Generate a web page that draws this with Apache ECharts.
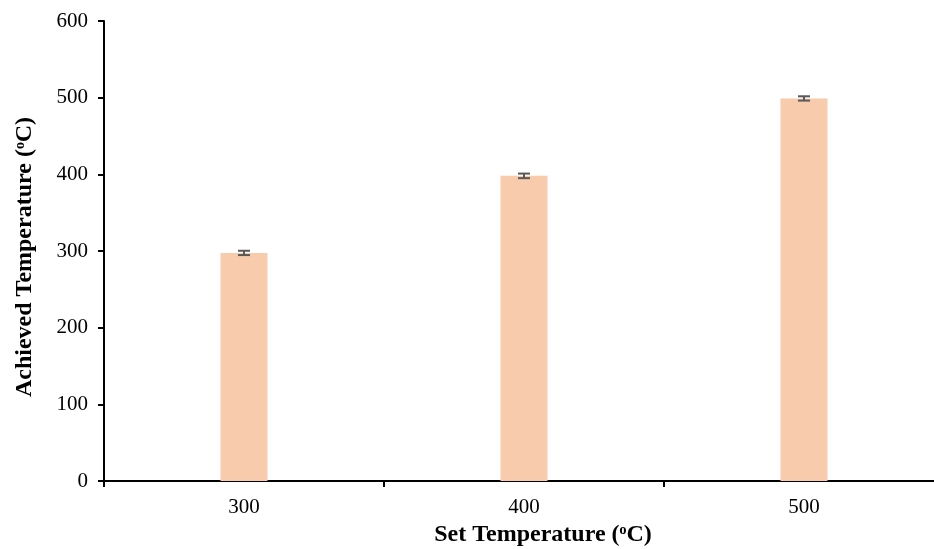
<!DOCTYPE html>
<html><head><meta charset="utf-8">
<script src="https://cdn.jsdelivr.net/npm/echarts@6/dist/echarts.min.js"></script>
<style>html,body{margin:0;padding:0;background:#fff}#c{width:934px;height:549px}</style>
</head><body><div id="c"></div>
<script>
const categories = ['300', '400', '500'];
const values = [297.5, 398, 499];
const errors = [2.8, 3, 2.8];
const yTicks = [0, 100, 200, 300, 400, 500, 600];

const chart = echarts.init(document.getElementById('c'));
const font = '"Liberation Serif","Times New Roman",serif';
chart.setOption({
  animation: false,
  grid: {left: 104, right: -10, top: 21, bottom: 68, containLabel: false, outerBoundsMode: 'none'},
  xAxis: {
    type: 'category', data: categories,
    name: 'Set Temperature (\u1d52C)', nameLocation: 'middle', nameGap: 41,
    nameTextStyle: {fontFamily: font, fontSize: 24, fontWeight: 'bold', color: '#000', padding: [0, 0, 0, 38]},
    axisLine: {lineStyle: {color: '#000', width: 2}},
    axisTick: {show: true, length: 6, lineStyle: {color: '#000', width: 2}, alignWithLabel: false},
    axisLabel: {fontFamily: font, fontSize: 21, color: '#000', margin: 16}
  },
  yAxis: {
    type: 'value', min: yTicks[0], max: yTicks[yTicks.length - 1], interval: 100,
    name: 'Achieved Temperature (\u1d52C)', nameLocation: 'middle', nameGap: 67,
    nameTextStyle: {fontFamily: font, fontSize: 24, fontWeight: 'bold', color: '#000', padding: [0, 12, 0, 0]},
    axisLine: {show: true, lineStyle: {color: '#000', width: 2}},
    axisTick: {show: true, length: 6, lineStyle: {color: '#000', width: 2}},
    axisLabel: {fontFamily: font, fontSize: 21, color: '#000', margin: 16},
    splitLine: {show: false}
  },
  series: [
    {type: 'bar', data: values, barWidth: 47, itemStyle: {color: '#F8CBAD'}},
    {type: 'custom', data: values.map((v, i) => [i, v - errors[i], v + errors[i]]), z: 10,
      renderItem: function (params, api) {
        const x = api.coord([api.value(0), 0])[0];
        const lo = api.coord([api.value(0), api.value(1)])[1];
        const hi = api.coord([api.value(0), api.value(2)])[1];
        const w = 6;
        const st = {stroke: '#595959', lineWidth: 2};
        return {type: 'group', children: [
          {type: 'line', shape: {x1: x, y1: lo, x2: x, y2: hi}, style: st},
          {type: 'line', shape: {x1: x - w, y1: lo, x2: x + w, y2: lo}, style: st},
          {type: 'line', shape: {x1: x - w, y1: hi, x2: x + w, y2: hi}, style: st}
        ]};
      }
    }
  ]
});
</script></body></html>
